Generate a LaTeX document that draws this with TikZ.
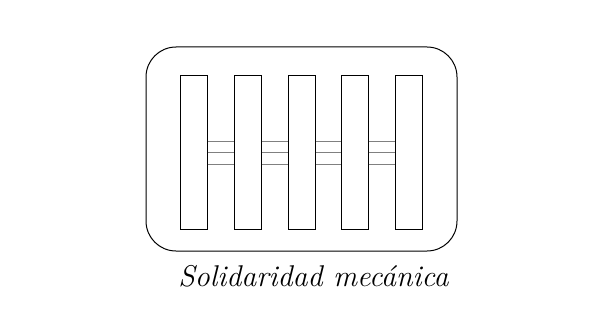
\documentclass[tikz,border=0pt]{standalone}
\begin{document}
\begin{tikzpicture}[
    x = 1pt, y = -1pt, % pixel-like units, y downwards
    bar/.style = {draw, rectangle, minimum width = 27pt, minimum height = 153pt, inner sep = 0pt},
    tie/.style = {gray, line width = 0.6pt},
    line width = 1pt % line style
]
\useasboundingbox (0, 0) rectangle (613, 329);

% Nodes
\node[draw, rectangle, rounded corners = 30pt, minimum width = 311pt, minimum height = 204pt] (cell) at (301.5, 149) {};
\node[bar] (b1) at (193.5, 152.5) {};
\node[bar] (b2) at (247.5, 152.5) {};
\node[bar] (b3) at (301.5, 152.5) {};
\node[bar] (b4) at (354.5, 152.5) {};
\node[bar] (b5) at (408.5, 152.5) {};
\node[anchor = base, inner sep = 0pt] (label) at (313.5, 286) {\fontsize{30}{36}\selectfont\itshape Solidaridad mecánica};

% Edges
\foreach \a/\b in {b1/b2, b2/b3, b3/b4, b4/b5}
    \foreach \s in {-11.5, 0, 11.5}
        \draw[tie] ([yshift=\s pt]\a.east) -- ([yshift=\s pt]\b.west);

\end{tikzpicture}
\end{document}
